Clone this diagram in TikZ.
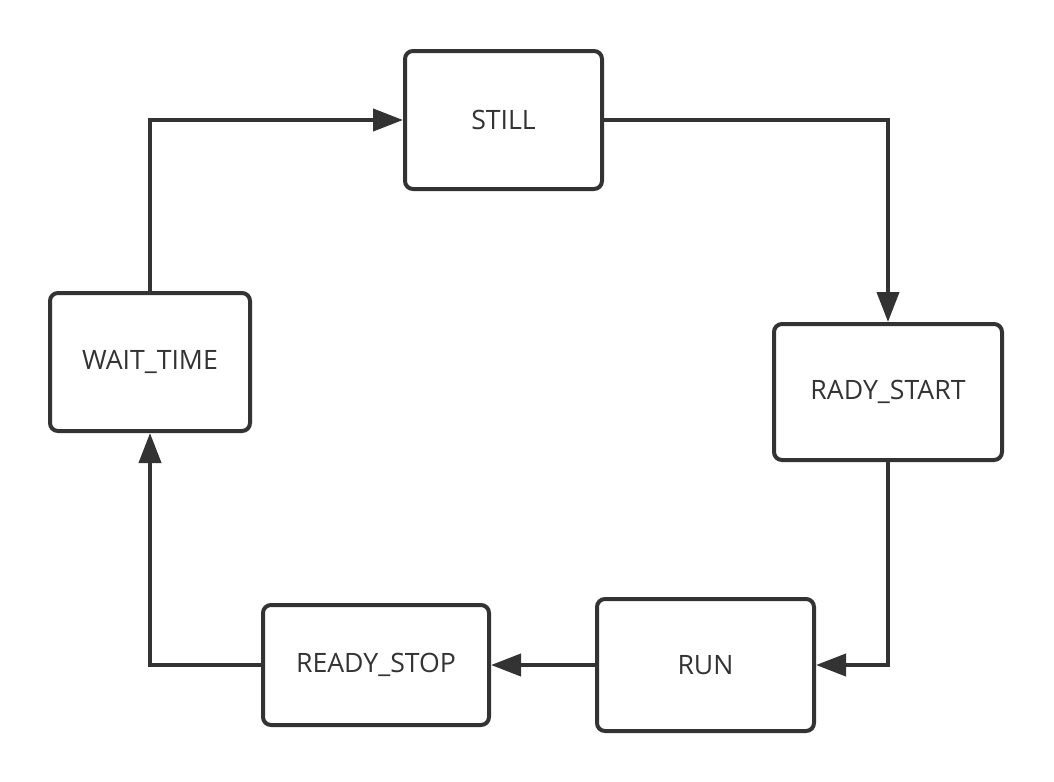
\documentclass[tikz,border=0pt]{standalone}
\usepackage{fontspec}
\setmainfont{Open Sans}
\usepackage{tikz}
\usetikzlibrary{arrows.meta}
\definecolor{ink}{HTML}{333333}

\begin{document}
\begin{tikzpicture}[x=0.75pt, y=-0.75pt,
	every node/.style={font=\fontsize{20}{24}\selectfont, text=ink},
	box/.style={draw=ink, line width=3pt, rounded corners=6pt, fill=white, align=center},
	flow/.style={draw=ink, line width=3pt},
	>={Triangle[length=22.5pt, width=16.5pt]}]
	\useasboundingbox (0,0) rectangle (1054,782);
	\node[box, minimum width=147.75pt, minimum height=103.5pt] (still) at (503.5,120) {STILL};
	\node[box, minimum width=171pt, minimum height=102pt] (rady) at (888,392) {RADY\_START};
	\node[box, minimum width=162.75pt, minimum height=99pt] (run) at (705.5,665) {RUN};
	\node[box, minimum width=169.5pt, minimum height=90pt] (stop) at (376,665) {READY\_STOP};
	\node[box, minimum width=150pt, minimum height=103.5pt] (wait) at (150,362) {WAIT\_TIME};
	\draw[flow, ->] (wait.north) |- (still.west);
	\draw[flow, ->] (still.east) -| (rady.north);
	\draw[flow, ->] (rady.south) |- (run.east);
	\draw[flow, ->] (run.west) -- (stop.east);
	\draw[flow, ->] (stop.west) -| (wait.south);
\end{tikzpicture}
\end{document}
